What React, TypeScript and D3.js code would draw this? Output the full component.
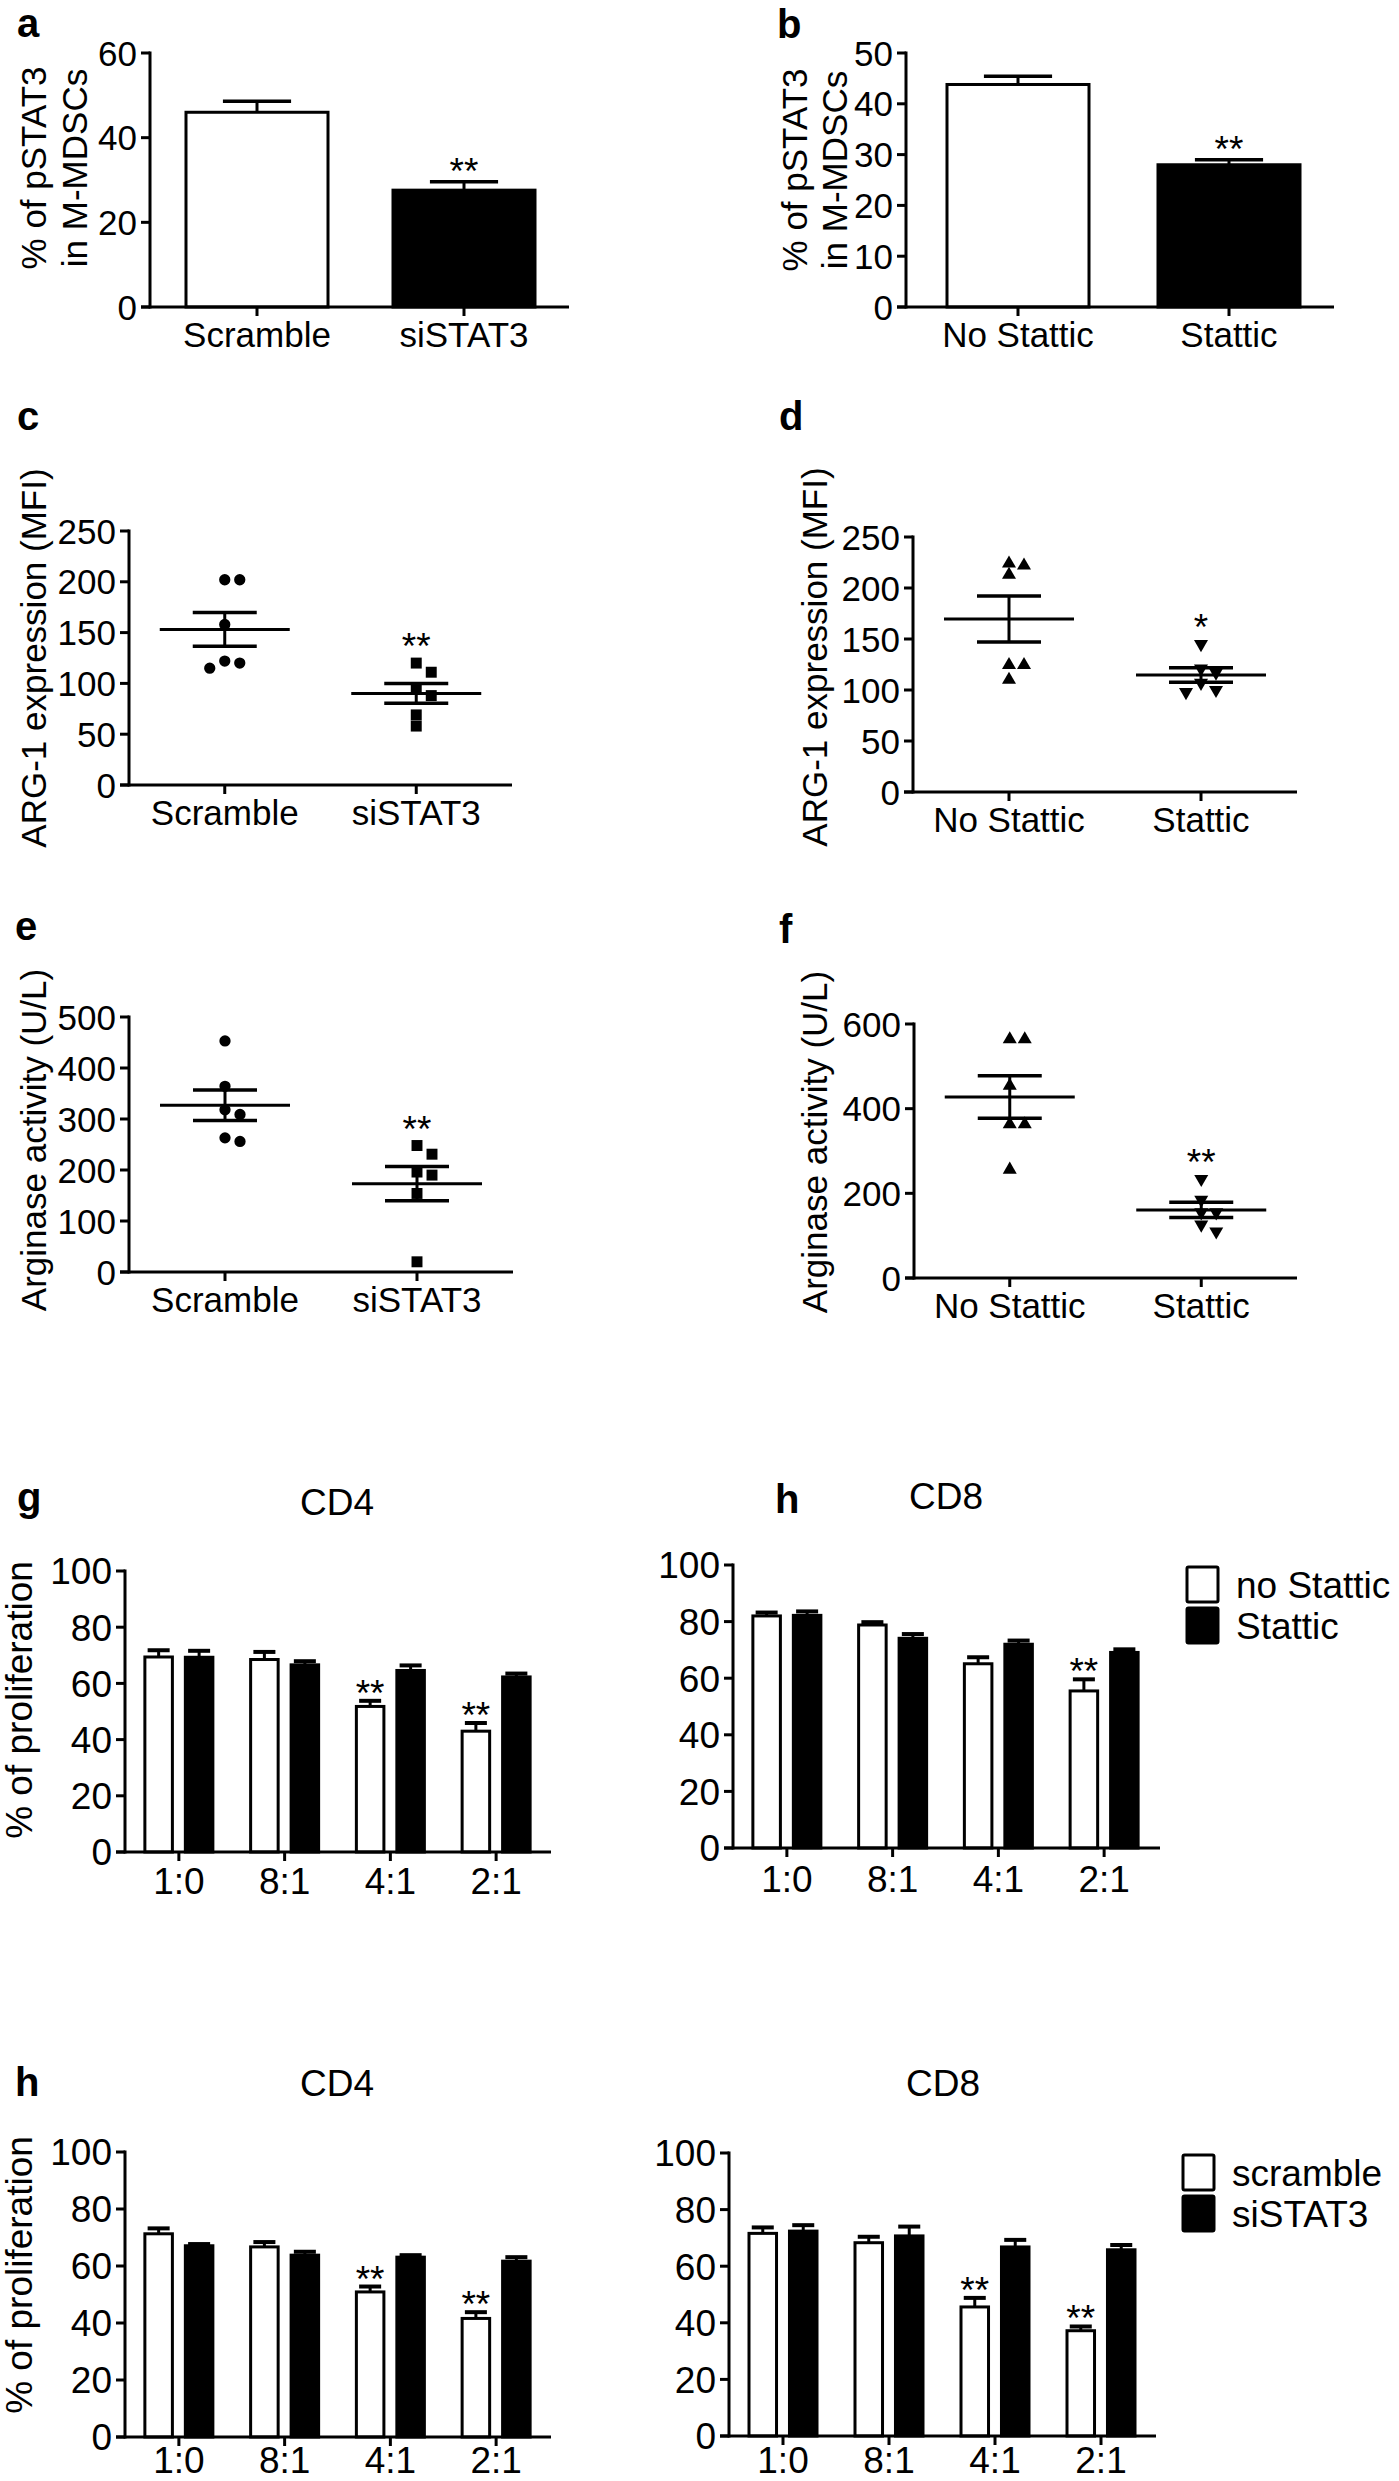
import React from "react";
import * as d3 from "d3";

// ---------------- DATA ----------------
// a: pSTAT3 in M-MDSCs, siRNA
const pstatSiCategories = ["Scramble", "siSTAT3"];
const pstatSiMeans = [46.0, 27.6];
const pstatSiSEM = [2.6, 2.0];
const pstatSiStars = ["", "**"];
const pstatSiTicks = [0, 20, 40, 60];

// b: pSTAT3 in M-MDSCs, Stattic
const pstatStCategories = ["No Stattic", "Stattic"];
const pstatStMeans = [43.8, 28.0];
const pstatStSEM = [1.6, 1.0];
const pstatStStars = ["", "**"];
const pstatStTicks = [0, 10, 20, 30, 40, 50];

// c: ARG-1 expression (MFI), siRNA
const argSiCategories = ["Scramble", "siSTAT3"];
const argScramble = [202, 202, 158, 122, 120, 115];
const argSiSTAT3 = [120, 111, 95, 88, 69, 58];
const argSiStars = ["", "**"];
const argTicks = [0, 50, 100, 150, 200, 250];

// d: ARG-1 expression (MFI), Stattic
const argStCategories = ["No Stattic", "Stattic"];
const argNoStattic = [222, 224, 213, 124.5, 124.5, 110];
const argStattic = [145, 121, 117, 107, 98, 100];
const argStStars = ["", "*"];

// e: Arginase activity, siRNA
const actSiCategories = ["Scramble", "siSTAT3"];
const actScramble = [453, 364, 318, 309, 256, 263];
const actSiSTAT3 = [248, 231, 190, 196, 154, 20];
const actSiStars = ["", "**"];
const actSiTicks = [0, 100, 200, 300, 400, 500];

// f: Arginase activity, Stattic
const actStCategories = ["No Stattic", "Stattic"];
const actNoStattic = [564, 564, 454, 363, 363, 256];
const actStattic = [234, 185, 155, 155, 126, 110];
const actStStars = ["", "**"];
const actStTicks = [0, 200, 400, 600];

// proliferation panels
const ratioCategories = ["1:0", "8:1", "4:1", "2:1"];
const prolifTicks = [0, 20, 40, 60, 80, 100];

// g: CD4, Stattic
const cd4NoStattic = [69.4, 68.5, 51.8, 43.0];
const cd4NoStatticSEM = [2.4, 2.7, 2.0, 2.9];
const cd4Stattic = [69.3, 66.6, 64.6, 62.3];
const cd4StatticSEM = [2.3, 1.3, 1.8, 1.2];
const cd4StStars = ["", "", "**", "**"];

// h: CD8, Stattic
const cd8NoStattic = [82.0, 78.8, 65.1, 55.5];
const cd8NoStatticSEM = [1.2, 1.0, 2.3, 4.1];
const cd8Stattic = [82.2, 74.1, 72.0, 69.1];
const cd8StatticSEM = [1.4, 1.5, 1.3, 1.1];
const cd8StStars = ["", "", "", "**"];

// h (bottom): CD4, siRNA
const cd4Scramble = [71.3, 66.7, 50.9, 41.6];
const cd4ScrambleSEM = [1.9, 1.7, 1.9, 2.2];
const cd4SiSTAT3 = [67.1, 63.8, 63.1, 61.7];
const cd4SiSTAT3SEM = [0.6, 1.2, 0.7, 1.4];
const cd4SiStars = ["", "", "**", "**"];

// h (bottom): CD8, siRNA
const cd8Scramble = [71.6, 68.3, 45.6, 37.2];
const cd8ScrambleSEM = [2.1, 2.1, 3.2, 1.5];
const cd8SiSTAT3 = [72.4, 70.7, 66.8, 65.8];
const cd8SiSTAT3SEM = [2.1, 3.3, 2.5, 1.7];
const cd8SiStars = ["", "", "**", "**"];

const statticLegend = ["no Stattic", "Stattic"];
const siLegend = ["scramble", "siSTAT3"];

// ---------------- STYLE ----------------
const FONT = "'Liberation Sans', Arial, Helvetica, sans-serif";
const FS = 35;
const FS2 = 37;
const SW = 3;
const K = "#000";

function YAxis({ scale, x, ticks, fs }: any) {
  const top = scale(ticks[ticks.length - 1]);
  const bottom = scale(ticks[0]);
  return (
    <g>
      <line x1={x} x2={x} y1={top} y2={bottom} stroke={K} strokeWidth={SW} strokeLinecap="square" />
      {ticks.map((t: number) => (
        <g key={t}>
          <line x1={x - 9} x2={x} y1={scale(t)} y2={scale(t)} stroke={K} strokeWidth={SW} />
          <text x={x - 13} y={scale(t)} dy="0.36em" textAnchor="end" fontSize={fs}>
            {t}
          </text>
        </g>
      ))}
    </g>
  );
}

function XAxis({ y, x0, x1, centers, labels, labelY, fs }: any) {
  return (
    <g>
      <line x1={x0 - 9} x2={x1} y1={y} y2={y} stroke={K} strokeWidth={SW} />
      {centers.map((c: number, i: number) => (
        <g key={i}>
          <line x1={c} x2={c} y1={y} y2={y + 9} stroke={K} strokeWidth={SW} />
          <text x={c} y={labelY} textAnchor="middle" fontSize={fs}>
            {labels[i]}
          </text>
        </g>
      ))}
    </g>
  );
}

function YTitle({ x, y, lines, gap, fs }: any) {
  return (
    <g>
      {lines.map((l: string, i: number) => (
        <text
          key={i}
          transform={`translate(${x + i * gap},${y}) rotate(-90)`}
          dy="0.36em"
          textAnchor="middle"
          fontSize={fs || FS}
        >
          {l}
        </text>
      ))}
    </g>
  );
}

function SimpleBarPanel({ lay, cats, means, sems, stars, ticks }: any) {
  const y = d3.scaleLinear().domain([0, ticks[ticks.length - 1]]).range([lay.yZero, lay.yTop]);
  const x = d3
    .scaleBand()
    .domain(cats)
    .range(lay.catRange)
    .paddingInner(lay.pad)
    .paddingOuter(lay.pad / 2);
  const bw = x.bandwidth();
  const fills = ["#fff", "#000"];
  return (
    <g>
      {cats.map((c: string, i: number) => {
        const cx = (x(c) as number) + bw / 2;
        const top = y(means[i]);
        const et = y(means[i] + sems[i]);
        const cap = bw * 0.48;
        return (
          <g key={c}>
            <line x1={cx} x2={cx} y1={top} y2={et} stroke={K} strokeWidth={SW} />
            <line x1={cx - cap / 2} x2={cx + cap / 2} y1={et} y2={et} stroke={K} strokeWidth={SW + 0.5} />
            <rect
              x={x(c) as number}
              y={top}
              width={bw}
              height={lay.yZero - top}
              fill={fills[i]}
              stroke={K}
              strokeWidth={SW}
            />
            {stars[i] && (
              <text x={cx} y={et + 2} textAnchor="middle" fontSize={37}>
                {stars[i]}
              </text>
            )}
          </g>
        );
      })}
      <YAxis scale={y} x={lay.axisX} ticks={ticks} fs={FS} />
      <XAxis
        y={lay.yZero}
        x0={lay.axisX}
        x1={lay.axisEnd}
        centers={cats.map((c: string) => (x(c) as number) + bw / 2)}
        labels={cats}
        labelY={lay.yZero + 40}
        fs={FS}
      />
    </g>
  );
}

function beeswarm(vals: number[], y: (v: number) => number) {
  const order = vals.map((v, i) => i).sort((a, b) => vals[b] - vals[a]);
  const placed: { off: number; py: number }[] = [];
  const offs = new Array(vals.length).fill(0);
  order.forEach((i) => {
    const py = y(vals[i]);
    for (const cand of [0, 1, -1, 2, -2]) {
      if (!placed.some((p) => p.off === cand && Math.abs(p.py - py) < 11)) {
        offs[i] = cand;
        placed.push({ off: cand, py });
        break;
      }
    }
  });
  return offs;
}

function ScatterPanel({ lay, cats, groups, shapes, stars, ticks }: any) {
  const y = d3.scaleLinear().domain([0, ticks[ticks.length - 1]]).range([lay.yZero, lay.yTop]);
  const x = d3.scalePoint().domain(cats).range([lay.axisX, lay.axisEnd]).padding(0.5);
  const symFor = (s: string) => {
    if (s === "circle") return d3.symbol(d3.symbolCircle, 100)();
    if (s === "square") return d3.symbol(d3.symbolSquare, 120)();
    return d3.symbol(d3.symbolTriangle, 85)();
  };
  return (
    <g>
      {cats.map((c: string, gi: number) => {
        const vals: number[] = groups[gi];
        const cx = x(c) as number;
        const m = d3.mean(vals) as number;
        const sem = (d3.deviation(vals) as number) / Math.sqrt(vals.length);
        const offs = beeswarm(vals, y);
        const path = symFor(shapes[gi]) as string;
        const rot = shapes[gi] === "triDown" ? " rotate(180)" : "";
        return (
          <g key={c}>
            {vals.map((v, i) => (
              <path key={i} d={path} transform={`translate(${cx + offs[i] * 15},${y(v)})${rot}`} fill={K} />
            ))}
            <line x1={cx - 65} x2={cx + 65} y1={y(m)} y2={y(m)} stroke={K} strokeWidth={SW} />
            <line x1={cx} x2={cx} y1={y(m + sem)} y2={y(m - sem)} stroke={K} strokeWidth={SW} />
            <line x1={cx - 32} x2={cx + 32} y1={y(m + sem)} y2={y(m + sem)} stroke={K} strokeWidth={SW + 0.5} />
            <line x1={cx - 32} x2={cx + 32} y1={y(m - sem)} y2={y(m - sem)} stroke={K} strokeWidth={SW + 0.5} />
            {stars[gi] && (
              <text x={cx} y={y(d3.max(vals) as number) - 4} textAnchor="middle" fontSize={37}>
                {stars[gi]}
              </text>
            )}
          </g>
        );
      })}
      <YAxis scale={y} x={lay.axisX} ticks={ticks} fs={FS} />
      <XAxis
        y={lay.yZero}
        x0={lay.axisX}
        x1={lay.axisEnd}
        centers={cats.map((c: string) => x(c) as number)}
        labels={cats}
        labelY={lay.yZero + 40}
        fs={FS}
      />
    </g>
  );
}

function GroupBarPanel({ lay, cats, sA, eA, sB, eB, stars, ticks, title }: any) {
  const y = d3.scaleLinear().domain([0, ticks[ticks.length - 1]]).range([lay.yZero, lay.yTop]);
  const x = d3.scaleBand().domain(cats).range(lay.catRange).padding(0);
  const sub = d3.scaleBand().domain(["A", "B"]).range([-34, 34]).paddingInner(0.32);
  const bw = sub.bandwidth();
  const series = [
    { key: "A", vals: sA, errs: eA, fill: "#fff" },
    { key: "B", vals: sB, errs: eB, fill: "#000" },
  ];
  const centers = cats.map((c: string) => (x(c) as number) + x.bandwidth() / 2);
  return (
    <g>
      <text x={lay.titleX} y={lay.titleY} textAnchor="middle" fontSize={FS2}>
        {title}
      </text>
      {cats.map((c: string, i: number) => (
        <g key={c}>
          {series.map((s) => {
            const bx = centers[i] + (sub(s.key) as number);
            const bcx = bx + bw / 2;
            const top = y(s.vals[i]);
            const et = y(s.vals[i] + s.errs[i]);
            const cap = bw * 0.8;
            return (
              <g key={s.key}>
                <line x1={bcx} x2={bcx} y1={top} y2={et} stroke={K} strokeWidth={SW} />
                <line x1={bcx - cap / 2} x2={bcx + cap / 2} y1={et} y2={et} stroke={K} strokeWidth={SW + 1} />
                <rect x={bx} y={top} width={bw} height={lay.yZero - top} fill={s.fill} stroke={K} strokeWidth={SW} />
                {s.key === "A" && stars[i] && (
                  <text x={bcx} y={et + 5} textAnchor="middle" fontSize={37}>
                    {stars[i]}
                  </text>
                )}
              </g>
            );
          })}
        </g>
      ))}
      <YAxis scale={y} x={lay.axisX} ticks={ticks} fs={FS2} />
      <XAxis
        y={lay.yZero}
        x0={lay.axisX}
        x1={lay.axisEnd}
        centers={centers}
        labels={cats}
        labelY={lay.yZero + lay.labelDy}
        fs={FS2}
      />
    </g>
  );
}

function Legend({ x, y, labels }: any) {
  return (
    <g>
      {labels.map((l: string, i: number) => (
        <g key={l}>
          <rect
            x={x}
            y={y + i * 41}
            width={31}
            height={35}
            fill={i === 0 ? "#fff" : "#000"}
            stroke={K}
            strokeWidth={SW}
            rx={1.5}
          />
          <text x={x + 49} y={y + i * 41 + 17.5} dy="0.36em" fontSize={FS2}>
            {l}
          </text>
        </g>
      ))}
    </g>
  );
}

function Letter({ x, y, t }: any) {
  return (
    <text x={x} y={y} fontSize={40} fontWeight="bold">
      {t}
    </text>
  );
}

export default function App() {
  return (
    <svg
      width={1399}
      height={2481}
      viewBox="0 0 1399 2481"
      style={{ position: "absolute", left: 0, top: 0, background: "#fff" }}
      fontFamily={FONT}
      fill="#000"
    >
      <rect x={0} y={0} width={1399} height={2481} fill="#fff" />

      {/* a */}
      <Letter x={17} y={37} t="a" />
      <YTitle x={33} y={168} lines={["% of pSTAT3", "in M-MDSCs"]} gap={41} />
      <SimpleBarPanel
        lay={{ axisX: 150, axisEnd: 569, yTop: 53, yZero: 307, catRange: [153.5, 567.5], pad: 0.314 }}
        cats={pstatSiCategories}
        means={pstatSiMeans}
        sems={pstatSiSEM}
        stars={pstatSiStars}
        ticks={pstatSiTicks}
      />

      {/* b */}
      <Letter x={777} y={38} t="b" />
      <YTitle x={794} y={170} lines={["% of pSTAT3", "in M-MDSCs"]} gap={40} />
      <SimpleBarPanel
        lay={{ axisX: 906, axisEnd: 1334, yTop: 53, yZero: 307, catRange: [912.5, 1334.5], pad: 0.327 }}
        cats={pstatStCategories}
        means={pstatStMeans}
        sems={pstatStSEM}
        stars={pstatStStars}
        ticks={pstatStTicks}
      />

      {/* c */}
      <Letter x={17} y={430} t="c" />
      <YTitle x={33} y={658} lines={["ARG-1 expression (MFI)"]} gap={0} />
      <ScatterPanel
        lay={{ axisX: 129, axisEnd: 512, yTop: 531, yZero: 785 }}
        cats={argSiCategories}
        groups={[argScramble, argSiSTAT3]}
        shapes={["circle", "square"]}
        stars={argSiStars}
        ticks={argTicks}
      />

      {/* d */}
      <Letter x={779} y={430} t="d" />
      <YTitle x={814} y={657} lines={["ARG-1 expression (MFI)"]} gap={0} />
      <ScatterPanel
        lay={{ axisX: 913, axisEnd: 1297, yTop: 537, yZero: 792 }}
        cats={argStCategories}
        groups={[argNoStattic, argStattic]}
        shapes={["triUp", "triDown"]}
        stars={argStStars}
        ticks={argTicks}
      />

      {/* e */}
      <Letter x={15} y={940} t="e" />
      <YTitle x={33} y={1140} lines={["Arginase activity (U/L)"]} gap={0} />
      <ScatterPanel
        lay={{ axisX: 129, axisEnd: 513, yTop: 1017, yZero: 1272 }}
        cats={actSiCategories}
        groups={[actScramble, actSiSTAT3]}
        shapes={["circle", "square"]}
        stars={actSiStars}
        ticks={actSiTicks}
      />

      {/* f */}
      <Letter x={779} y={943} t="f" />
      <YTitle x={814} y={1142} lines={["Arginase activity (U/L)"]} gap={0} />
      <ScatterPanel
        lay={{ axisX: 914, axisEnd: 1297, yTop: 1024, yZero: 1278 }}
        cats={actStCategories}
        groups={[actNoStattic, actStattic]}
        shapes={["triUp", "triDown"]}
        stars={actStStars}
        ticks={actStTicks}
      />

      {/* g */}
      <Letter x={17} y={1511} t="g" />
      <YTitle x={19} y={1700} lines={["% of proliferation"]} gap={0} fs={FS2} />
      <GroupBarPanel
        lay={{ axisX: 125, axisEnd: 551, yTop: 1571, yZero: 1852, catRange: [126, 549], titleX: 337, titleY: 1515, labelDy: 42 }}
        cats={ratioCategories}
        sA={cd4NoStattic}
        eA={cd4NoStatticSEM}
        sB={cd4Stattic}
        eB={cd4StatticSEM}
        stars={cd4StStars}
        ticks={prolifTicks}
        title="CD4"
      />

      {/* h top */}
      <Letter x={775} y={1513} t="h" />
      <GroupBarPanel
        lay={{ axisX: 733, axisEnd: 1160, yTop: 1565, yZero: 1848, catRange: [734, 1157], titleX: 946, titleY: 1509, labelDy: 44 }}
        cats={ratioCategories}
        sA={cd8NoStattic}
        eA={cd8NoStatticSEM}
        sB={cd8Stattic}
        eB={cd8StatticSEM}
        stars={cd8StStars}
        ticks={prolifTicks}
        title="CD8"
      />
      <Legend x={1187} y={1567} labels={statticLegend} />

      {/* h bottom */}
      <Letter x={15} y={2096} t="h" />
      <YTitle x={19} y={2275} lines={["% of proliferation"]} gap={0} fs={FS2} />
      <GroupBarPanel
        lay={{ axisX: 125, axisEnd: 551, yTop: 2152, yZero: 2437, catRange: [126, 549], titleX: 337, titleY: 2096, labelDy: 36 }}
        cats={ratioCategories}
        sA={cd4Scramble}
        eA={cd4ScrambleSEM}
        sB={cd4SiSTAT3}
        eB={cd4SiSTAT3SEM}
        stars={cd4SiStars}
        ticks={prolifTicks}
        title="CD4"
      />
      <GroupBarPanel
        lay={{ axisX: 729, axisEnd: 1156, yTop: 2153, yZero: 2436, catRange: [730, 1154], titleX: 943, titleY: 2096, labelDy: 37 }}
        cats={ratioCategories}
        sA={cd8Scramble}
        eA={cd8ScrambleSEM}
        sB={cd8SiSTAT3}
        eB={cd8SiSTAT3SEM}
        stars={cd8SiStars}
        ticks={prolifTicks}
        title="CD8"
      />
      <Legend x={1183} y={2155} labels={siLegend} />
    </svg>
  );
}
